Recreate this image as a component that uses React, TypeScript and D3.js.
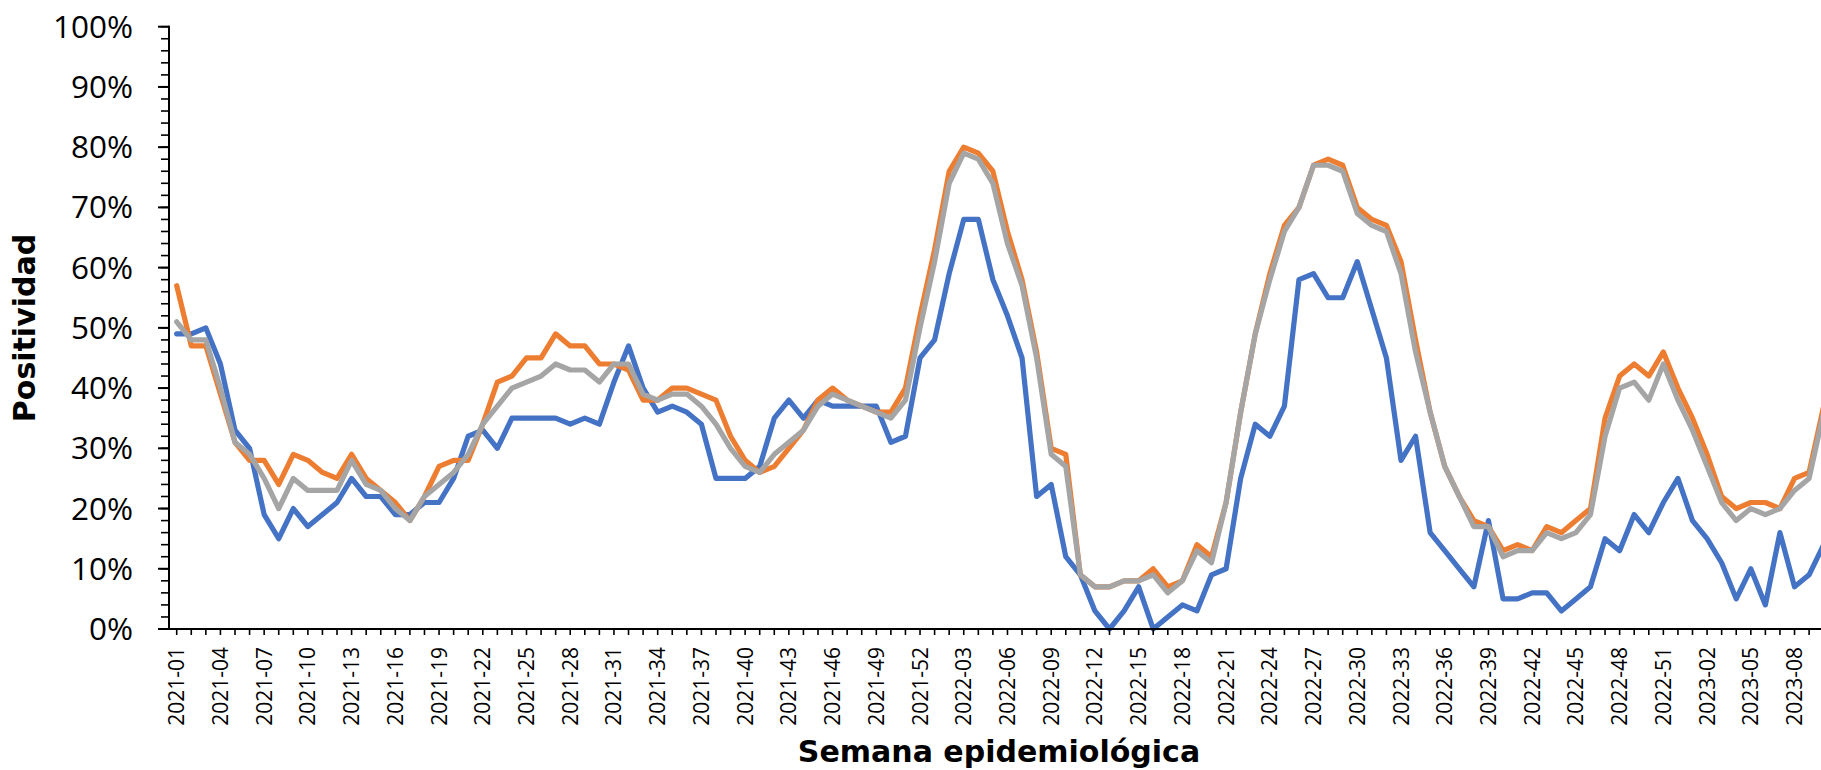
import React from "react";
import * as d3 from "d3";

// Semanas epidemiológicas (categorías del eje X)
const weeks: string[] = [
  "2021-01","2021-02","2021-03","2021-04","2021-05","2021-06","2021-07","2021-08","2021-09","2021-10",
  "2021-11","2021-12","2021-13","2021-14","2021-15","2021-16","2021-17","2021-18","2021-19","2021-20",
  "2021-21","2021-22","2021-23","2021-24","2021-25","2021-26","2021-27","2021-28","2021-29","2021-30",
  "2021-31","2021-32","2021-33","2021-34","2021-35","2021-36","2021-37","2021-38","2021-39","2021-40",
  "2021-41","2021-42","2021-43","2021-44","2021-45","2021-46","2021-47","2021-48","2021-49","2021-50",
  "2021-51","2021-52",
  "2022-01","2022-02","2022-03","2022-04","2022-05","2022-06","2022-07","2022-08","2022-09","2022-10",
  "2022-11","2022-12","2022-13","2022-14","2022-15","2022-16","2022-17","2022-18","2022-19","2022-20",
  "2022-21","2022-22","2022-23","2022-24","2022-25","2022-26","2022-27","2022-28","2022-29","2022-30",
  "2022-31","2022-32","2022-33","2022-34","2022-35","2022-36","2022-37","2022-38","2022-39","2022-40",
  "2022-41","2022-42","2022-43","2022-44","2022-45","2022-46","2022-47","2022-48","2022-49","2022-50",
  "2022-51","2022-52",
  "2023-01","2023-02","2023-03","2023-04","2023-05","2023-06","2023-07","2023-08","2023-09","2023-10",
];

// Positividad (%) por serie
const serieAzul: number[] = [
  49, 49, 50, 44, 33, 30, 19, 15, 20, 17, 19, 21, 25, 22, 22, 19, 19, 21, 21, 25,
  32, 33, 30, 35, 35, 35, 35, 34, 35, 34, 41, 47, 40, 36, 37, 36, 34, 25, 25, 25,
  27, 35, 38, 35, 38, 37, 37, 37, 37, 31, 32, 45, 48, 59, 68, 68, 58, 52, 45, 22,
  24, 12, 9, 3, 0, 3, 7, 0, 2, 4, 3, 9, 10, 25, 34, 32, 37, 58, 59, 55,
  55, 61, 53, 45, 28, 32, 16, 13, 10, 7, 18, 5, 5, 6, 6, 3, 5, 7, 15, 13,
  19, 16, 21, 25, 18, 15, 11, 5, 10, 4, 16, 7, 9, 14,
];

const serieNaranja: number[] = [
  57, 47, 47, 39, 31, 28, 28, 24, 29, 28, 26, 25, 29, 25, 23, 21, 18, 22, 27, 28,
  28, 34, 41, 42, 45, 45, 49, 47, 47, 44, 44, 43, 38, 38, 40, 40, 39, 38, 32, 28,
  26, 27, 30, 33, 38, 40, 38, 37, 36, 36, 40, 52, 63, 76, 80, 79, 76, 66, 58, 46,
  30, 29, 9, 7, 7, 8, 8, 10, 7, 8, 14, 12, 21, 36, 49, 59, 67, 70, 77, 78,
  77, 70, 68, 67, 61, 48, 36, 27, 22, 18, 17, 13, 14, 13, 17, 16, 18, 20, 35, 42,
  44, 42, 46, 40, 35, 29, 22, 20, 21, 21, 20, 25, 26, 37,
];

const serieGris: number[] = [
  51, 48, 48, 40, 31, 29, 25, 20, 25, 23, 23, 23, 28, 24, 23, 20, 18, 22, 24, 26,
  29, 34, 37, 40, 41, 42, 44, 43, 43, 41, 44, 44, 39, 38, 39, 39, 37, 34, 30, 27,
  26, 29, 31, 33, 37, 39, 38, 37, 36, 35, 38, 50, 61, 74, 79, 78, 74, 64, 57, 45,
  29, 27, 9, 7, 7, 8, 8, 9, 6, 8, 13, 11, 21, 36, 49, 58, 66, 70, 77, 77,
  76, 69, 67, 66, 59, 46, 36, 27, 22, 17, 17, 12, 13, 13, 16, 15, 16, 19, 32, 40,
  41, 38, 44, 38, 33, 27, 21, 18, 20, 19, 20, 23, 25, 36,
];

const yMajorTicks: number[] = [0, 10, 20, 30, 40, 50, 60, 70, 80, 90, 100];
const yMinorTicks: number[] = d3.range(0, 101, 2);
const xTickLabels: string[] = weeks.filter((_, i) => i % 3 === 0);

const W = 1821;
const H = 770;
const AXIS_X = 169;
const AXIS_Y = 629;
const TOP_Y = 26.7;
const FIRST_X = 176.7;
const STEP = 14.575;

export default function App() {
  const x = d3
    .scalePoint<string>()
    .domain(weeks)
    .range([FIRST_X, FIRST_X + STEP * (weeks.length - 1)]);
  const y = d3.scaleLinear().domain([0, 100]).range([AXIS_Y, TOP_Y]);

  const line = d3
    .line<number>()
    .x((_, i) => x(weeks[i]) as number)
    .y((d) => y(d));

  const series = [
    { name: "azul", data: serieAzul, color: "#4472C4" },
    { name: "naranja", data: serieNaranja, color: "#ED7D31" },
    { name: "gris", data: serieGris, color: "#A5A5A5" },
  ];

  const labelFont = "'Open Sans', 'DejaVu Sans', sans-serif";
  const titleFont = "'DejaVu Sans', sans-serif";

  return (
    <div
      style={{
        position: "fixed",
        left: 0,
        top: 0,
        width: W,
        height: H,
        overflow: "hidden",
        background: "#ffffff",
      }}
    >
      <svg width={W} height={H} viewBox={`0 0 ${W} ${H}`} style={{ display: "block" }}>
        <rect x={0} y={0} width={W} height={H} fill="#ffffff" />

        {/* Series */}
        {series.map((s) => (
          <path
            key={s.name}
            d={line(s.data) || ""}
            fill="none"
            stroke={s.color}
            strokeWidth={5.2}
            strokeLinejoin="round"
            strokeLinecap="round"
          />
        ))}

        {/* Y axis */}
        <line x1={AXIS_X} x2={AXIS_X} y1={TOP_Y - 1} y2={AXIS_Y + 1} stroke="#000" strokeWidth={2} />
        {yMinorTicks.map((t) => (
          <line
            key={"ymin" + t}
            x1={AXIS_X - 8}
            x2={AXIS_X}
            y1={y(t)}
            y2={y(t)}
            stroke="#000"
            strokeWidth={1.6}
          />
        ))}
        {yMajorTicks.map((t) => (
          <g key={"ymaj" + t}>
            <line x1={AXIS_X - 11} x2={AXIS_X} y1={y(t)} y2={y(t)} stroke="#000" strokeWidth={2} />
            <text
              x={133}
              y={y(t) + 11}
              textAnchor="end"
              fontFamily={labelFont}
              fontSize={31.5}
              fill="#000"
            >
              {t + "%"}
            </text>
          </g>
        ))}

        {/* X axis */}
        <line x1={AXIS_X} x2={W + 20} y1={AXIS_Y} y2={AXIS_Y} stroke="#000" strokeWidth={2} />
        {weeks.map((w) => (
          <line
            key={"xt" + w}
            x1={x(w) as number}
            x2={x(w) as number}
            y1={AXIS_Y}
            y2={AXIS_Y + 6}
            stroke="#000"
            strokeWidth={1.6}
          />
        ))}
        {xTickLabels.map((w) => (
          <text
            key={"xl" + w}
            transform={`translate(${(x(w) as number) + 7.5},${647}) rotate(-90)`}
            textAnchor="end"
            fontFamily={labelFont}
            fontSize={21}
            fill="#000"
          >
            {w}
          </text>
        ))}

        {/* Axis titles */}
        <text
          transform={`translate(35,328) rotate(-90)`}
          textAnchor="middle"
          fontFamily={titleFont}
          fontWeight="bold"
          fontSize={30}
          fill="#000"
        >
          Positividad
        </text>
        <text
          x={999}
          y={762}
          textAnchor="middle"
          fontFamily={titleFont}
          fontWeight="bold"
          fontSize={30}
          fill="#000"
        >
          Semana epidemiológica
        </text>
      </svg>
    </div>
  );
}
